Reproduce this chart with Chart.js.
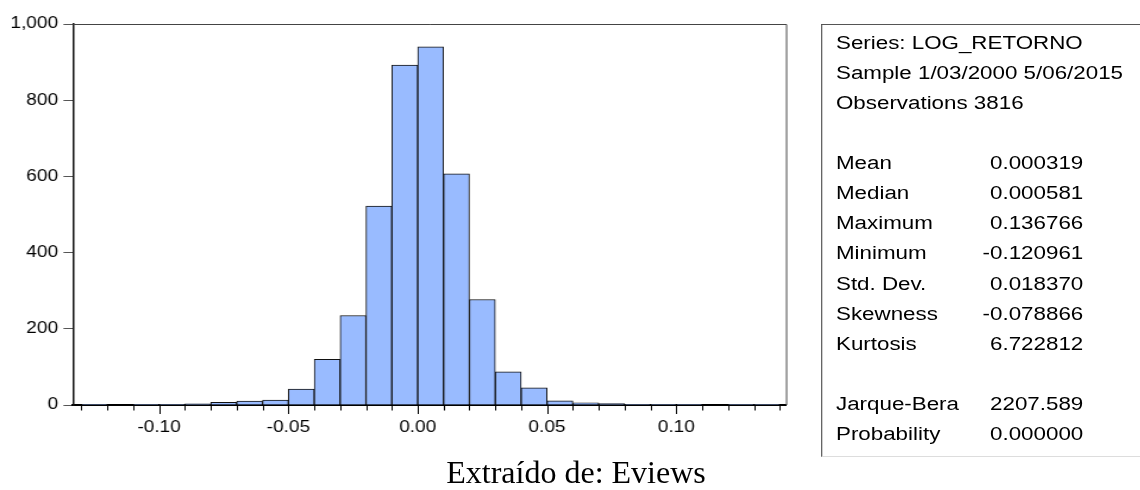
<!DOCTYPE html>
<html>
<head>
<meta charset="utf-8">
<script src="https://cdn.jsdelivr.net/npm/chart.js@4.4.0/dist/chart.umd.min.js"></script>
<style>
  html, body { margin: 0; padding: 0; background: #fff; overflow: hidden; }
  body { width: 1140px; height: 490px; position: relative; }
  /* the EViews picture is stretched horizontally, so the chart and box are too */
  #stretch { position: absolute; left: 0; top: 0; width: 958px; height: 490px; transform: scaleX(1.19); transform-origin: 0 0; }
  #chartWrap { position: absolute; left: 0; top: 0; width: 958px; height: 490px; }
  #stats { position: absolute; left: 690px; top: 24px; width: 300px; height: 433px; box-sizing: border-box;
           border-left: 1px solid #555; border-top: 1px solid #555; border-bottom: 1px solid #ddd;
           padding-top: 2.5px; font-family: "Liberation Sans", Arial, sans-serif; font-size: 18.8px; color: #000; }
  .row { height: 30.15px; line-height: 30.15px; position: relative; white-space: nowrap; }
  .lab { position: absolute; left: 11.5px; top: 0; }
  .val { position: absolute; left: 0; width: 219.3px; top: 0; text-align: right; }
  #source { position: absolute; left: 0; top: 455px; width: 1152px; text-align: center; line-height: 34px;
            font-family: "Liberation Serif", "Times New Roman", serif; font-size: 32px; color: #000; }
</style>
</head>
<body>
<div id="stretch">
  <div id="chartWrap"><canvas id="histChart"></canvas></div>
  <div id="stats"></div>
</div>
<div id="source">Extraído de: Eviews</div>
<script>
// histogram bins (edges) and counts
const binEdges = [-0.13, -0.12, -0.11, -0.10, -0.09, -0.08, -0.07, -0.06, -0.05, -0.04, -0.03, -0.02, -0.01,
                  0.00, 0.01, 0.02, 0.03, 0.04, 0.05, 0.06, 0.07, 0.08, 0.09, 0.10, 0.11, 0.12, 0.13, 0.14];
const counts = [1, 0, 1, 1, 3, 7, 10, 13, 42, 120, 235, 522, 892, 940, 607, 277, 87, 45, 11, 6, 4, 2, 1, 1, 0, 1, 1];
const yTicks = [0, 200, 400, 600, 800, 1000];

// summary box
const headerLines = ['Series: LOG_RETORNO', 'Sample 1/03/2000 5/06/2015', 'Observations 3816'];
const statLabels = ['Mean', 'Median', 'Maximum', 'Minimum', 'Std. Dev.', 'Skewness', 'Kurtosis'];
const statValues = ['0.000319', '0.000581', '0.136766', '-0.120961', '0.018370', '-0.078866', '6.722812'];
const testLabels = ['Jarque-Bera', 'Probability'];
const testValues = ['2207.589', '0.000000'];

function addRow(label, value) {
  const row = document.createElement('div');
  row.className = 'row';
  if (label) {
    const l = document.createElement('span');
    l.className = 'lab';
    l.textContent = label;
    row.appendChild(l);
  }
  if (value) {
    const v = document.createElement('span');
    v.className = 'val';
    v.textContent = value;
    row.appendChild(v);
  }
  document.getElementById('stats').appendChild(row);
}
headerLines.forEach(h => addRow(h, ''));
addRow('', '');
statLabels.forEach((s, i) => addRow(s, statValues[i]));
addRow('', '');
testLabels.forEach((s, i) => addRow(s, testValues[i]));

const isMajor = v => Math.abs(Math.round(v * 100)) % 5 === 0;

const framePlugin = {
  id: 'frame',
  afterDraw(chart) {
    const { ctx, chartArea: a, scales } = chart;
    ctx.save();
    ctx.strokeStyle = '#444';
    ctx.lineWidth = 1;
    ctx.beginPath();
    ctx.moveTo(a.left, a.top + 0.5);
    ctx.lineTo(a.right + 0.5, a.top + 0.5);
    ctx.lineTo(a.right + 0.5, a.bottom);
    ctx.stroke();
    // bin-edge ticks under the x axis, longer at labelled values
    ctx.strokeStyle = '#000';
    ctx.lineWidth = 1;
    scales.x.ticks.forEach(t => {
      const px = Math.round(scales.x.getPixelForValue(t.value)) + 0.5;
      const len = isMajor(t.value) ? 9 : 5.5;
      ctx.beginPath();
      ctx.moveTo(px, a.bottom);
      ctx.lineTo(px, a.bottom + len);
      ctx.stroke();
    });
    ctx.restore();
  }
};

const ctx = document.getElementById('histChart').getContext('2d');
new Chart(ctx, {
  type: 'bar',
  data: {
    datasets: [{
      data: counts.map((c, i) => ({ x: (binEdges[i] + binEdges[i + 1]) / 2, y: c })),
      backgroundColor: '#99BBFF',
      borderColor: '#111',
      borderWidth: 1,
      barPercentage: 1,
      categoryPercentage: 1
    }]
  },
  options: {
    responsive: true,
    maintainAspectRatio: false,
    animation: false,
    layout: { padding: { left: 0, top: 24, right: 297.5, bottom: 45 } },
    plugins: { legend: { display: false }, tooltip: { enabled: false } },
    scales: {
      x: {
        type: 'linear',
        min: -0.1333,
        max: 0.1424,
        offset: false,
        afterBuildTicks: s => { s.ticks = binEdges.map(v => ({ value: v })); },
        afterFit: s => { s.height = 40; },
        grid: { display: true, offset: false, drawOnChartArea: false, drawTicks: true, tickLength: 9, tickColor: 'rgba(0,0,0,0)' },
        border: { display: true, color: '#000', width: 2 },
        ticks: {
          autoSkip: false,
          maxRotation: 0,
          padding: 4,
          color: '#000',
          font: { family: '"Liberation Sans", Arial, sans-serif', size: 16 },
          callback: v => isMajor(v) ? v.toFixed(2) : ''
        }
      },
      y: {
        min: 0,
        max: 1000,
        afterBuildTicks: s => { s.ticks = yTicks.map(v => ({ value: v })); },
        afterFit: s => { s.width = 61.3; },
        grid: { drawOnChartArea: false, tickLength: 8, tickColor: '#555' },
        border: { display: true, color: '#111', width: 1.5 },
        ticks: {
          padding: 4.5,
          color: '#000',
          font: { family: '"Liberation Sans", Arial, sans-serif', size: 16 },
          callback: v => v.toLocaleString('en-US')
        }
      }
    }
  },
  plugins: [framePlugin]
});
</script>
</body>
</html>
